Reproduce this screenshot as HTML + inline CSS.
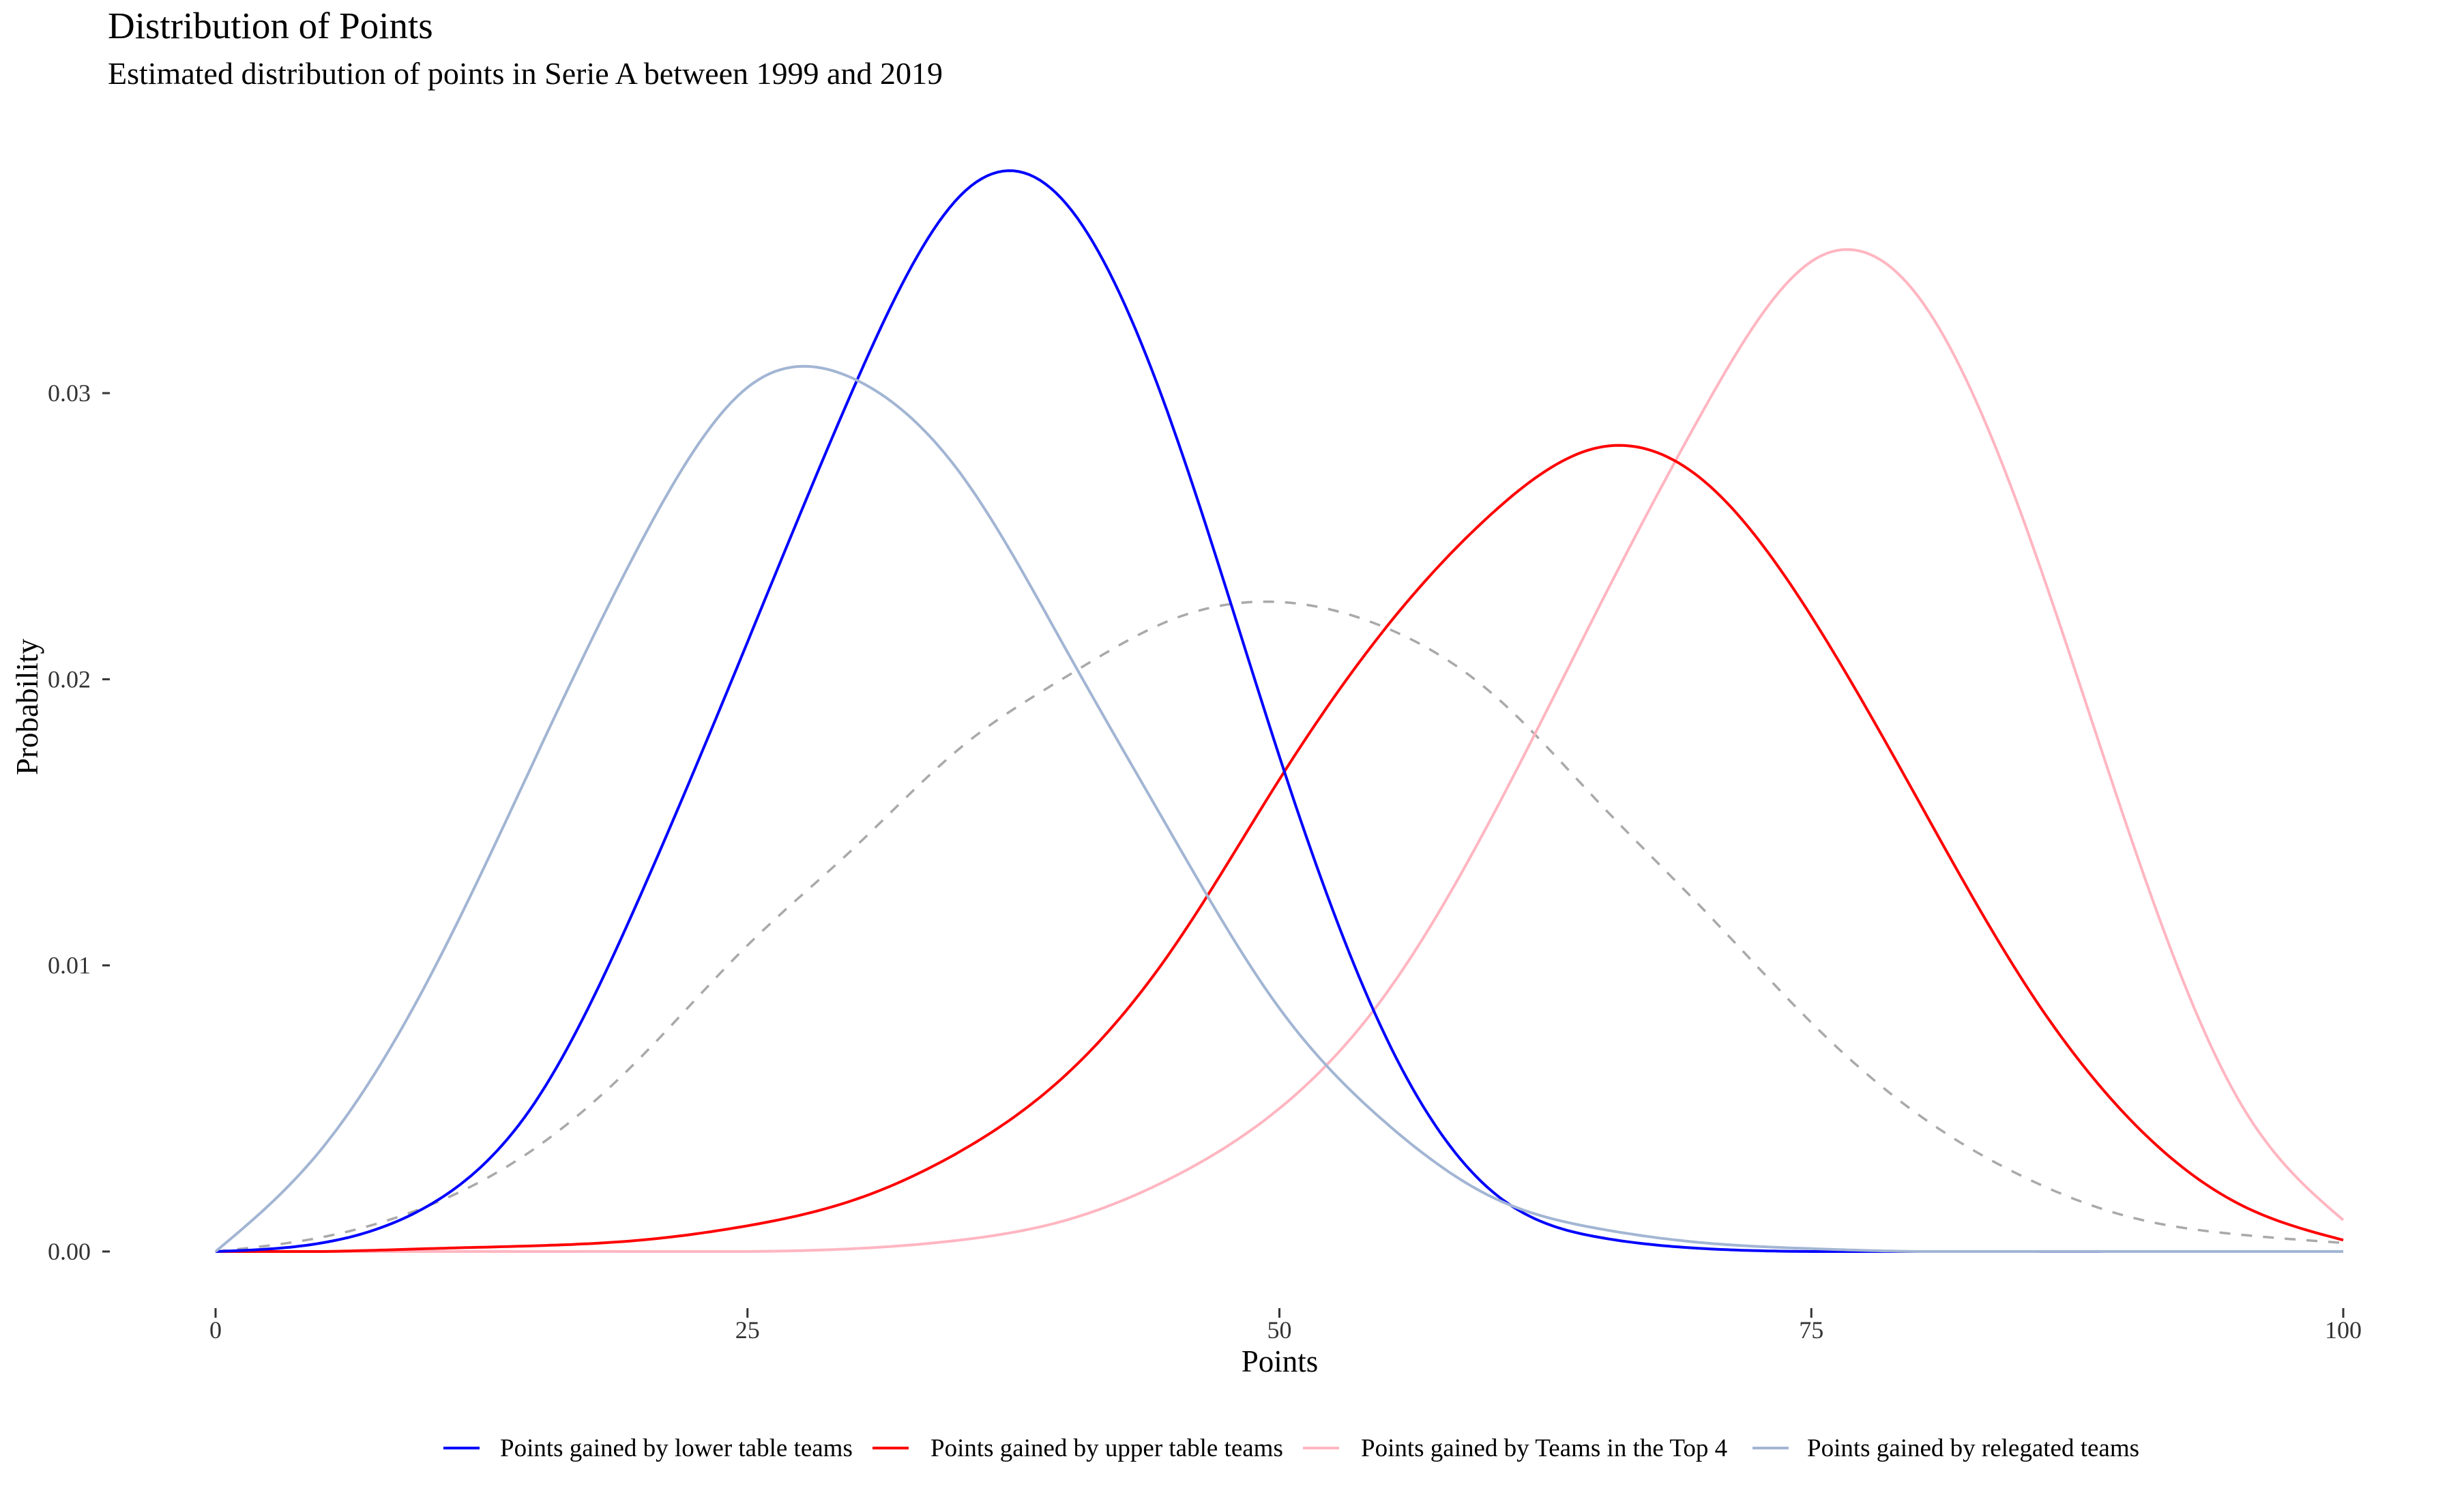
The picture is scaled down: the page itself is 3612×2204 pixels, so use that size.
<!DOCTYPE html>
<html><head><meta charset="utf-8">
<style>
html,body{margin:0;padding:0;background:#fff;}
svg{display:block;font-family:"Liberation Serif",serif;}
</style></head>
<body>
<svg id="chart" width="3612" height="2204" viewBox="0 0 3612 2204" xmlns="http://www.w3.org/2000/svg">
<text x="158" y="56" font-size="55" fill="#000">Distribution of Points</text>
<text x="158" y="123" font-size="46" fill="#000">Estimated distribution of points in Serie A between 1999 and 2019</text>
<g id="yaxis"></g>
<g id="xaxis"></g>
<text transform="translate(55,1036) rotate(-90)" text-anchor="middle" font-size="45" fill="#000">Probability</text>
<text x="1876" y="2010" text-anchor="middle" font-size="45" fill="#000">Points</text>
<g id="series"></g>
<g id="legend"></g>
</svg>
<script>
const xTicks = [0, 25, 50, 75, 100];
const yTicks = [0, 0.01, 0.02, 0.03];
const yTickLabels = ["0.00", "0.01", "0.02", "0.03"];
const xGrid = [0,5,10,15,20,25,30,35,40,45,50,55,60,65,70,75,80,85,90,95,100];
const lowerVals = [0,0.0003,0.0016,0.0052,0.0125,0.0213,0.0302,0.0369,0.0366,0.0288,0.0173,0.0075,0.0021,0.0005,0.0001,0,0,0,0,0,0];
const upperVals = [0,0,0.0001,0.0002,0.0004,0.0009,0.0018,0.0035,0.0062,0.0106,0.0165,0.0218,0.0258,0.0281,0.0269,0.0222,0.0158,0.0094,0.0046,0.0017,0.0004];
const top4Vals = [0,0,0,0,0,0,0.0001,0.0004,0.0011,0.0026,0.005,0.009,0.0152,0.0225,0.0295,0.0346,0.0334,0.0255,0.0145,0.0054,0.0011];
const relegVals = [0,0.0036,0.0095,0.0172,0.0248,0.0302,0.0305,0.0272,0.021,0.0145,0.0085,0.0045,0.0019,0.0008,0.0003,0.0001,0,0,0,0,0];
const overallVals = [0,0.0005,0.0016,0.0036,0.0068,0.0107,0.0141,0.0176,0.0201,0.0221,0.0227,0.0218,0.0195,0.0157,0.0119,0.008,0.0048,0.0026,0.0012,0.0006,0.0003];
const legendLabels = ["Points gained by lower table teams","Points gained by upper table teams","Points gained by Teams in the Top 4","Points gained by relegated teams"];

const NS="http://www.w3.org/2000/svg";
const X0=316, X1=3435, Y0=1834, YPER=41930;
function sx(v){return X0+(X1-X0)*v/100;}
function sy(v){return Y0-v*YPER;}
function mk(tag,attrs,parent){const e=document.createElementNS(NS,tag);for(const k in attrs)e.setAttribute(k,attrs[k]);parent.appendChild(e);return e;}

const ya=document.getElementById('yaxis');
yTicks.forEach((t,i)=>{
  const l=mk('line',{x1:150,x2:161,y1:sy(t),y2:sy(t),stroke:'#333','stroke-width':3},ya);
  
  
  const tx=mk('text',{x:133,y:sy(t)+12,'text-anchor':'end','font-size':36,fill:'#333'},ya);
  tx.textContent=yTickLabels[i];
  
  
});
const xa=document.getElementById('xaxis');
xTicks.forEach(t=>{
  const l=mk('line',{x1:sx(t),x2:sx(t),y1:1917,y2:1931,stroke:'#333','stroke-width':3},xa);
  
  
  const tx=mk('text',{x:sx(t),y:1961,'text-anchor':'middle','font-size':36,fill:'#333'},xa);
  tx.textContent=t;
  
  
});

function splinePath(xs,ys){
  const n=xs.length, h=[], M=new Array(n).fill(0);
  for(let i=0;i<n-1;i++)h.push(xs[i+1]-xs[i]);
  const l=new Array(n).fill(0),mu=new Array(n).fill(0),z=new Array(n).fill(0);
  l[0]=1;
  for(let i=1;i<n-1;i++){
    const al=6*((ys[i+1]-ys[i])/h[i]-(ys[i]-ys[i-1])/h[i-1]);
    l[i]=2*(xs[i+1]-xs[i-1])-h[i-1]*mu[i-1];
    mu[i]=h[i]/l[i];
    z[i]=(al-h[i-1]*z[i-1])/l[i];
  }
  for(let j=n-2;j>=1;j--)M[j]=z[j]-mu[j]*M[j+1];
  let p='';
  for(let i=0;i<n-1;i++){
    const steps=20;
    for(let k=(i===0?0:1);k<=steps;k++){
      const x=xs[i]+h[i]*k/steps, A=(xs[i+1]-x)/h[i], B=(x-xs[i])/h[i];
      let y=A*ys[i]+B*ys[i+1]+((A*A*A-A)*M[i]+(B*B*B-B)*M[i+1])*h[i]*h[i]/6;
      if(y<0)y=0;
      p+=(p?'L':'M')+sx(x).toFixed(1)+','+sy(y).toFixed(1);
    }
  }
  return p;
}
const sg=document.getElementById('series');
const ov=mk('path',{d:splinePath(xGrid,overallVals),fill:'none',stroke:'#A9A9A9','stroke-width':3.5,'stroke-dasharray':'16,16'},sg);


const top4=mk('path',{d:splinePath(xGrid,top4Vals),fill:'none',stroke:'#FFB6C1','stroke-width':4},sg);


const upper=mk('path',{d:splinePath(xGrid,upperVals),fill:'none',stroke:'#FF0000','stroke-width':4},sg);


const lower=mk('path',{d:splinePath(xGrid,lowerVals),fill:'none',stroke:'#0000FF','stroke-width':4},sg);


const rel=mk('path',{d:splinePath(xGrid,relegVals),fill:'none',stroke:'#A2B5D3','stroke-width':4},sg);



const lg=document.getElementById('legend');
const lcol=['#0000FF','#FF0000','#FFB6C1','#A2B5D3'];
const kx=[650,1279,1910,2569], tx0=[733,1364,1995,2649];
legendLabels.forEach((lab,i)=>{
  const k=mk('line',{x1:kx[i],x2:kx[i]+53,y1:2122,y2:2122,stroke:lcol[i],'stroke-width':4},lg);
  
  
  const t=mk('text',{x:tx0[i],y:2134,'font-size':37,fill:'#000'},lg);
  t.textContent=lab;
  
  
});
</script>
</body></html>
